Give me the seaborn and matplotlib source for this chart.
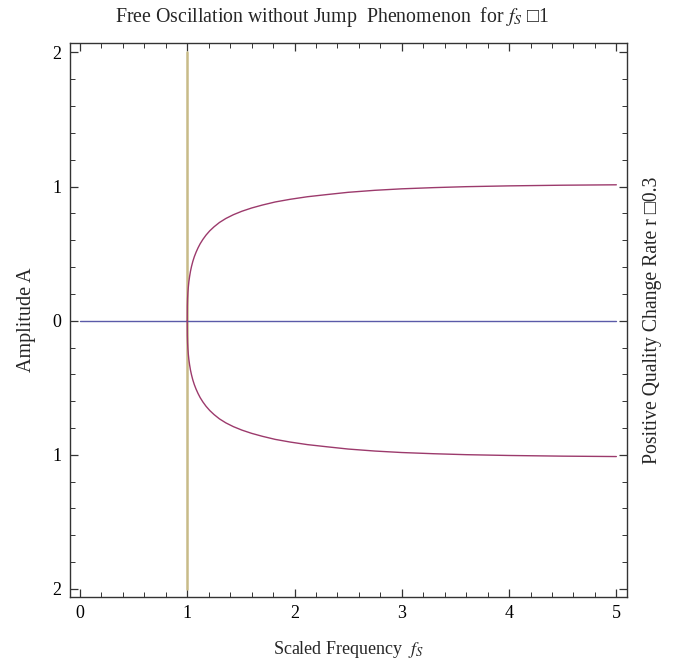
import matplotlib
matplotlib.use("Agg")
import matplotlib.pyplot as plt
import seaborn as sns
import pandas as pd
from matplotlib.ticker import FixedLocator, MultipleLocator

# ---- data ----
f_curve = [1.000, 1.001, 1.003, 1.006, 1.010, 1.015, 1.022, 1.030, 1.040, 1.052,
           1.066, 1.082, 1.10, 1.12, 1.145, 1.175, 1.21, 1.25, 1.30, 1.36,
           1.43, 1.51, 1.60, 1.70, 1.82, 1.96, 2.12, 2.30, 2.50, 2.75,
           3.0, 3.3, 3.6, 4.0, 4.5, 5.0]
amp_upper = [0.000, 0.110, 0.165, 0.210, 0.250, 0.290, 0.330, 0.368, 0.405, 0.442,
             0.477, 0.510, 0.542, 0.573, 0.605, 0.638, 0.670, 0.700, 0.732, 0.762,
             0.790, 0.816, 0.840, 0.862, 0.885, 0.905, 0.924, 0.940, 0.957, 0.972,
             0.983, 0.992, 0.999, 1.005, 1.010, 1.013]
amp_lower = [-0.000, -0.110, -0.165, -0.210, -0.250, -0.290, -0.330, -0.368, -0.405, -0.442,
             -0.477, -0.510, -0.542, -0.573, -0.605, -0.638, -0.670, -0.700, -0.732, -0.762,
             -0.790, -0.816, -0.840, -0.862, -0.885, -0.905, -0.924, -0.940, -0.957, -0.972,
             -0.983, -0.992, -0.999, -1.005, -1.010, -1.013]
zero_f = [0.0, 5.0]
zero_a = [0.0, 0.0]
vert_f = [1.0, 1.0]
vert_a = [-2.0, 2.0]

x_ticks = [0, 1, 2, 3, 4, 5]
x_tick_labels = ["0", "1", "2", "3", "4", "5"]
y_ticks = [-2, -1, 0, 1, 2]
y_tick_labels = ["2", "1", "0", "1", "2"]

title = "Free Oscillation without Jump  Phenomenon  for $f_S$ \u25a11"
xlabel = "Scaled Frequency  $f_S$"
ylabel = "Amplitude A"
right_label = "Positive Quality Change Rate r \u25a10.3"

# ---- style ----
sns.set_theme(style="white")
plt.rcParams["font.family"] = ["Liberation Serif", "DejaVu Sans"]
plt.rcParams["mathtext.fontset"] = "stix"

fig = plt.figure(figsize=(6.75, 6.68), dpi=100)
ax = fig.add_axes([0.1037, 0.1063, 0.8253, 0.8293])

c_blue = "#5a5aa8"
c_mag = "#9c3a6c"
c_tan = "#c8bb88"

df_zero = pd.DataFrame({"f": zero_f, "A": zero_a})
df_vert = pd.DataFrame({"f": vert_f, "A": vert_a})
df_up = pd.DataFrame({"f": f_curve, "A": amp_upper})
df_lo = pd.DataFrame({"f": f_curve, "A": amp_lower})

kw = dict(x="f", y="A", sort=False, estimator=None, ax=ax)
sns.lineplot(data=df_vert, color=c_tan, lw=1.8, zorder=2, **kw)
sns.lineplot(data=df_zero, color=c_blue, lw=1.0, zorder=3, **kw)
sns.lineplot(data=df_up, color=c_mag, lw=1.0, zorder=4, **kw)
sns.lineplot(data=df_lo, color=c_mag, lw=1.0, zorder=4, **kw)

ax.set_xlim(-0.093, 5.1)
ax.set_ylim(-2.06, 2.07)

ax.xaxis.set_major_locator(FixedLocator(x_ticks))
ax.set_xticklabels(x_tick_labels)
ax.xaxis.set_minor_locator(MultipleLocator(0.2))
ax.yaxis.set_major_locator(FixedLocator(y_ticks))
ax.set_yticklabels(y_tick_labels)
ax.yaxis.set_minor_locator(MultipleLocator(0.2))

ax.tick_params(which="both", direction="in", top=True, right=True, bottom=True, left=True,
               color="#333333", labelsize=13, labelcolor="black")
ax.tick_params(which="major", length=6, width=0.9, pad=6)
ax.tick_params(which="minor", length=3.5, width=0.7)

for s in ax.spines.values():
    s.set_color("#333333")
    s.set_linewidth(1.0)

ax.set_xlabel(xlabel, fontsize=13, labelpad=12)
ax.set_ylabel(ylabel, fontsize=14.5, labelpad=12)
fig.text(332 / 675, 1 - 17 / 668, title, fontsize=14.3, ha="center", va="center")
ax.text(1.045, 0.5, right_label, transform=ax.transAxes, rotation=90,
        ha="center", va="center", fontsize=14.2)
ax.grid(False)

fig.savefig("out.png", dpi=100)
